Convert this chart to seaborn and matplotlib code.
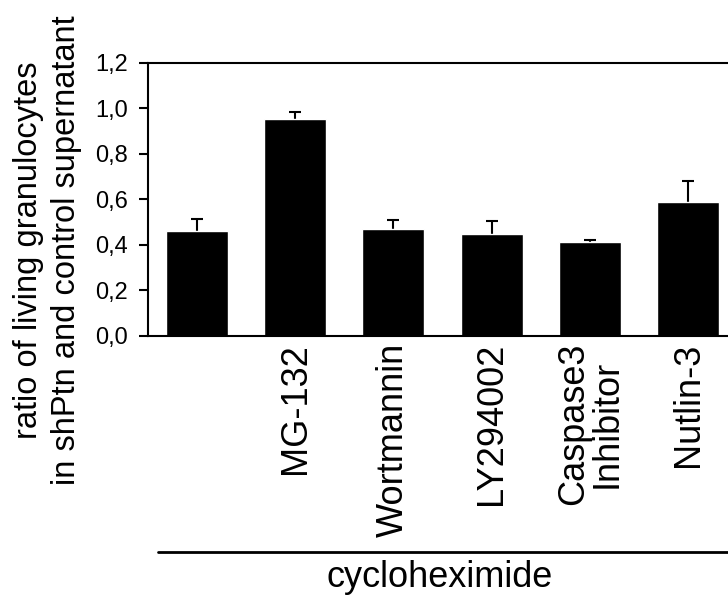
import numpy as np
import pandas as pd
import matplotlib
matplotlib.use("Agg")
import matplotlib.pyplot as plt
from matplotlib.lines import Line2D
import seaborn as sns

# Treatments (all in the presence of cycloheximide)
treatments = ["", "MG-132", "Wortmannin", "LY294002", "Caspase3\nInhibitor", "Nutlin-3"]
ratio_mean = [0.46, 0.953, 0.471, 0.449, 0.414, 0.588]
ratio_err = [0.054, 0.029, 0.037, 0.057, 0.008, 0.091]
y_ticks = [0.0, 0.2, 0.4, 0.6, 0.8, 1.0, 1.2]
y_tick_labels = ["0,0", "0,2", "0,4", "0,6", "0,8", "1,0", "1,2"]
y_label = "ratio of living granulocytes\nin shPtn and control supernatant"
group_label = "cycloheximide"

sns.set_theme(style="ticks")
plt.rcParams["font.family"] = ["Liberation Sans", "DejaVu Sans"]
plt.rcParams["text.color"] = "black"
plt.rcParams["xtick.color"] = "black"
plt.rcParams["ytick.color"] = "black"
plt.rcParams["axes.edgecolor"] = "black"

df = pd.DataFrame({"treatment": treatments, "ratio": ratio_mean})

fig = plt.figure(figsize=(7.28, 5.95), dpi=100)
ax = fig.add_axes([0.2029, 0.4353, 0.81, 0.4593])

sns.barplot(data=df, x="treatment", y="ratio", color="black", saturation=1,
            width=0.63, ax=ax, errorbar=None)
# upper-only error bars: hide the cap that would sit on the bar top
eb = ax.errorbar(np.arange(len(ratio_mean)), ratio_mean,
                 yerr=[np.zeros(len(ratio_err)), ratio_err],
                 fmt="none", ecolor="black", elinewidth=1.5,
                 capsize=4.3, capthick=1.5, zorder=0.5)
for cap in eb[1]:
    if np.allclose(cap.get_ydata(), ratio_mean):
        cap.set_visible(False)

ax.set_xlim(-0.5, len(treatments) - 0.5)
ax.set_ylim(0, 1.2)
ax.set_yticks(y_ticks)
ax.set_yticklabels(y_tick_labels, fontsize=17)
ax.tick_params(axis="y", direction="out", length=6.5, width=1.5, pad=8,
               colors="black", labelcolor="black")
ax.tick_params(axis="x", length=0, pad=5, labelcolor="black")
ax.set_xticks(range(len(treatments)))
ax.set_xticklabels(treatments, rotation=90, fontsize=26, ha="center", va="top",
                   linespacing=0.95, color="black")
ax.set_xlabel("")
ax.set_ylabel("")
for side in ["left", "top", "bottom", "right"]:
    ax.spines[side].set_visible(True)
    ax.spines[side].set_linewidth(1.5)
    ax.spines[side].set_color("black")

fig.text(0.065, 0.58, y_label, rotation=90, fontsize=23.5, ha="center", va="center",
         multialignment="center", linespacing=1.3, color="black")

fig.add_artist(Line2D([158 / 728, 1.0], [0.0723, 0.0723], color="black", lw=2.0,
                      transform=fig.transFigure))
fig.text(0.604, 0.014, group_label, fontsize=26, ha="center", va="baseline",
         color="black")

fig.savefig("out.png", dpi=100)
